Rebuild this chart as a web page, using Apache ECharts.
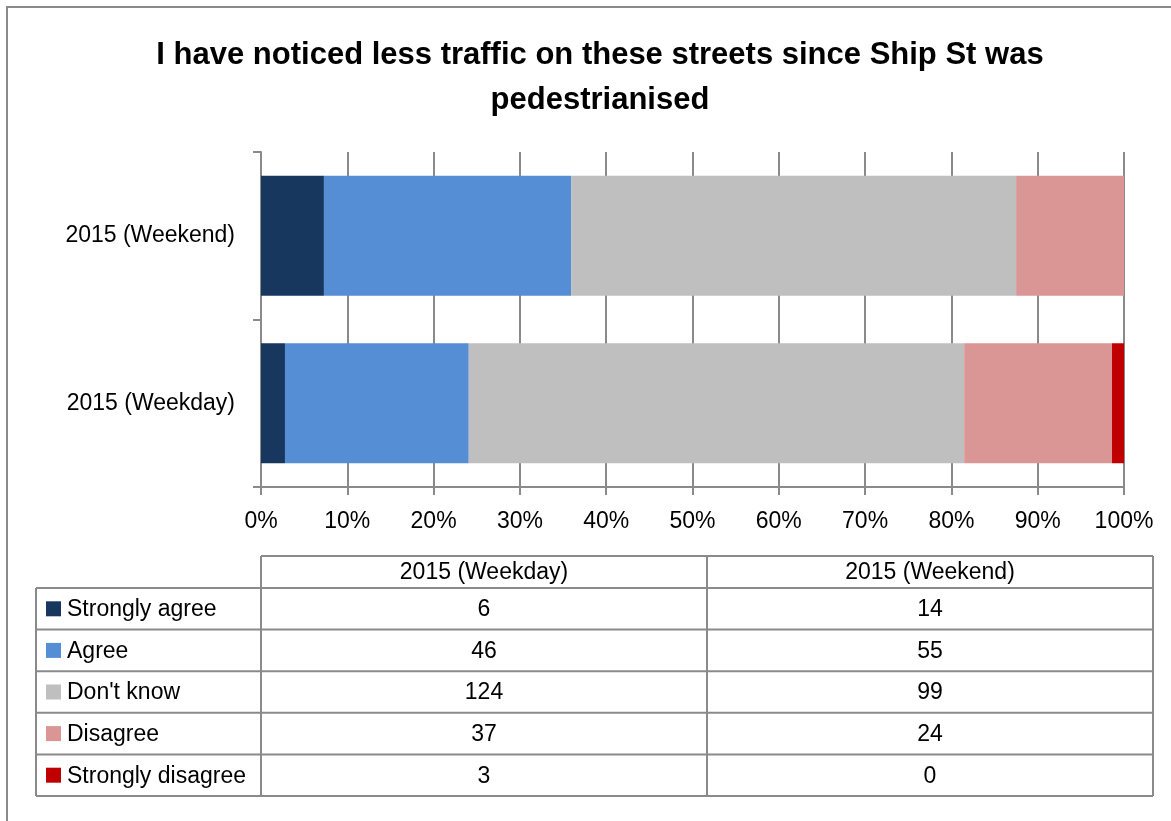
<!DOCTYPE html>
<html>
<head>
<meta charset="utf-8">
<script src="https://cdn.jsdelivr.net/npm/echarts@6/dist/echarts.min.js"></script>
<style>
  html, body { margin: 0; padding: 0; background: #fff; }
  #chart { width: 1171px; height: 821px; }
</style>
</head>
<body>
<div id="chart"></div>
<script>
// Survey responses (counts) per day type
const categories = ['2015 (Weekday)', '2015 (Weekend)'];
const responses = ['Strongly agree', 'Agree', "Don't know", 'Disagree', 'Strongly disagree'];
const weekday = [6, 46, 124, 37, 3];
const weekend = [14, 55, 99, 24, 0];
const xTickLabels = ['0%', '10%', '20%', '30%', '40%', '50%', '60%', '70%', '80%', '90%', '100%'];
const colors = ['#17375E', '#558ED5', '#BFBFBF', '#D99694', '#C00000'];

const FONT = 'Liberation Sans';
const FS = 23;
const GRID = '#8a8a8a';

const countsByCategory = [weekday, weekend];
const totals = countsByCategory.map(a => a.reduce((s, v) => s + v, 0));

// 100% stacked series: share of each response within a category
const series = responses.map((name, i) => ({
  name,
  type: 'bar',
  stack: 'share',
  barWidth: 120,
  itemStyle: { color: colors[i] },
  data: countsByCategory.map((arr, c) => arr[i] / totals[c] * 100)
}));

// Data table under the chart
const table = { left: 36, col1: 261, col2: 707, right: 1153, headTop: 556, headBottom: 588, rowH: 41.6 };
const graphic = [];
const line = (x1, y1, x2, y2) => graphic.push({
  type: 'line', silent: true,
  shape: { x1, y1, x2, y2 },
  style: { stroke: GRID, lineWidth: 2 }
});
const text = (x, y, str, align) => graphic.push({
  type: 'text', silent: true, x, y,
  style: { text: str, font: FS + 'px "' + FONT + '"', fill: '#000', align: align || 'center', verticalAlign: 'middle' }
});

// outer chart border
graphic.push({
  type: 'rect', silent: true,
  shape: { x: 7, y: 7, width: 1200, height: 900 },
  style: { fill: 'none', stroke: GRID, lineWidth: 2 }
});

const tableBottom = table.headBottom + table.rowH * responses.length;
// header row
line(table.col1, table.headTop, table.right, table.headTop);
line(table.col1, table.headTop, table.col1, tableBottom);
line(table.col2, table.headTop, table.col2, tableBottom);
line(table.right, table.headTop, table.right, tableBottom);
line(table.left, table.headBottom, table.left, tableBottom);
const colCenters = [(table.col1 + table.col2) / 2, (table.col2 + table.right) / 2];
categories.forEach((c, j) => text(colCenters[j], (table.headTop + table.headBottom) / 2 + 1, c));
for (let r = 0; r <= responses.length; r++) {
  const y = table.headBottom + table.rowH * r;
  line(table.left, y, table.right, y);
}
responses.forEach((name, i) => {
  const yMid = table.headBottom + table.rowH * (i + 0.5);
  graphic.push({
    type: 'rect', silent: true,
    shape: { x: 46, y: yMid - 7.5, width: 15, height: 15 },
    style: { fill: colors[i] }
  });
  text(67, yMid + 1, name, 'left');
  countsByCategory.forEach((arr, j) => text(colCenters[j], yMid + 1, String(arr[i])));
});

const chart = echarts.init(document.getElementById('chart'));
chart.setOption({
  animation: false,
  title: {
    text: 'I have noticed less traffic on these streets since Ship St was\npedestrianised',
    left: 595,
    textAlign: 'center',
    top: 28,
    textStyle: { fontFamily: FONT, fontWeight: 'bold', fontSize: 31, lineHeight: 45, color: '#000' }
  },
  legend: { show: false },
  grid: { left: 261, right: 47, top: 152, bottom: 334, containLabel: false },
  xAxis: {
    type: 'value',
    min: 0, max: 100, interval: 10,
    axisLine: { show: true, lineStyle: { color: GRID, width: 2 } },
    axisTick: { show: true, length: 8, lineStyle: { color: GRID, width: 2 } },
    splitLine: { show: true, lineStyle: { color: GRID, width: 2 } },
    axisLabel: {
      margin: 23,
      fontFamily: FONT, fontSize: FS, color: '#000',
      formatter: (v) => xTickLabels[Math.round(v / 10)]
    }
  },
  yAxis: {
    type: 'category',
    data: categories,
    axisLine: { show: true, lineStyle: { color: GRID, width: 2 } },
    axisTick: { show: true, length: 8, lineStyle: { color: GRID, width: 2 } },
    axisLabel: { margin: 26, fontFamily: FONT, fontSize: FS, color: '#000' }
  },
  series,
  graphic
});
</script>
</body>
</html>
